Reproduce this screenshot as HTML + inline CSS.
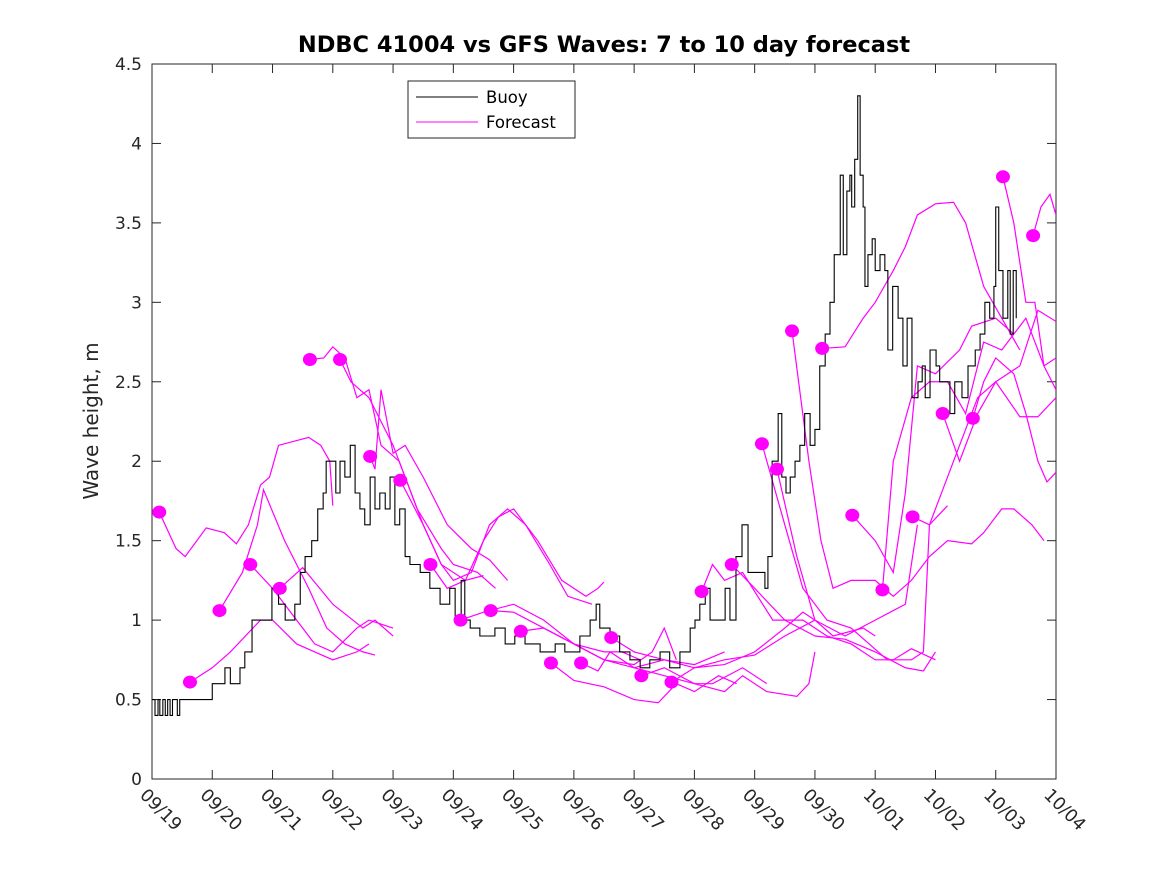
<!DOCTYPE html>
<html><head><meta charset="utf-8"><style>
body{margin:0;background:#fff;}
svg{display:block;font-family:"DejaVu Sans","Liberation Sans",sans-serif;}
</style></head><body>
<svg id="chart" width="1167" height="875" xmlns="http://www.w3.org/2000/svg"></svg>
<script>
const buoyTimes=[0,.05,.1,.13,.18,.22,.26,.3,.34,.38,.42,.46,1.0,1.21,1.3,1.46,1.54,1.66,1.87,1.99,2.1,2.21,2.37,2.46,2.54,2.65,2.75,2.84,2.89,3.0,3.05,3.12,3.2,3.29,3.37,3.45,3.53,3.62,3.7,3.78,3.87,3.95,4.03,4.11,4.2,4.28,4.45,4.61,4.78,4.94,5.03,5.13,5.19,5.28,5.44,5.69,5.86,6.02,6.19,6.44,6.69,6.85,7.1,7.27,7.37,7.43,7.6,7.76,7.93,8.1,8.26,8.43,8.59,8.76,8.93,9.01,9.09,9.18,9.26,9.42,9.51,9.59,9.69,9.79,9.89,10.09,10.17,10.22,10.29,10.39,10.45,10.52,10.59,10.67,10.75,10.83,10.92,11.0,11.08,11.17,11.25,11.32,11.42,11.47,11.53,11.58,11.61,11.66,11.71,11.75,11.8,11.83,11.88,11.95,12.0,12.08,12.16,12.21,12.29,12.38,12.46,12.53,12.61,12.71,12.78,12.83,12.91,13.01,13.07,13.16,13.24,13.32,13.44,13.54,13.66,13.74,13.82,13.9,13.97,14.0,14.05,14.12,14.2,14.24,14.29,14.34];
const buoyValues=[.5,.4,.5,.4,.5,.4,.5,.4,.5,.5,.4,.5,.6,.7,.6,.7,.8,1.0,1.0,1.2,1.1,1.0,1.1,1.3,1.4,1.5,1.7,1.8,2.0,2.0,1.8,2.0,1.9,2.1,1.8,1.7,1.6,1.9,1.7,1.8,1.7,1.9,1.6,1.7,1.4,1.35,1.3,1.2,1.1,1.2,1.0,1.25,1.0,.95,.9,.95,.85,.9,.85,.8,.85,.8,.9,1.0,1.1,.95,.9,.8,.75,.7,.75,.8,.7,.8,.95,1.0,1.1,1.2,1.0,1.0,1.2,1.0,1.4,1.6,1.3,1.3,1.2,1.4,2.0,2.3,1.9,1.8,1.9,2.0,2.1,2.3,2.1,2.2,2.6,2.8,3.0,3.3,3.8,3.3,3.7,3.8,3.6,3.9,4.3,3.8,3.6,3.1,3.3,3.4,3.2,3.3,3.2,2.7,3.1,2.9,2.6,2.9,2.4,2.5,2.6,2.4,2.7,2.6,2.5,2.5,2.3,2.5,2.4,2.6,2.7,2.8,3.0,2.9,3.1,3.6,3.2,2.9,3.2,2.8,3.2,2.9];
const forecastTimes=[
[.12,.4,.55,.9,1.2,1.4,1.6,1.8,1.95,2.1,2.4,2.6,2.8,2.95,3.0],
[.63,1.0,1.3,1.8,2.0,2.4,2.7,3.0,3.4,3.6],
[1.12,1.5,1.75,1.85,2.2,2.6,2.9,3.2,3.5,3.7],
[1.63,2.0,2.4,2.7,3.0,3.4,3.6,4.0],
[2.12,2.5,3.0,3.5,3.7,4.0],
[2.62,2.85,3.0,3.2,3.4,3.6,3.8,4.1,4.5,4.8,5.2,5.5],
[3.12,3.3,3.6,4.0,4.4,4.8,5.0,5.4,5.7],
[3.62,3.7,3.8,4.0,4.2,4.5,4.9,5.3,5.6,5.9],
[4.12,4.5,4.8,5.0,5.3,5.6,5.9,6.2,6.6,6.9,7.3],
[4.62,4.9,5.2,5.5,5.75,6.0,6.4,6.8,7.2,7.4,7.5],
[5.12,5.5,6.0,6.5,7.0,7.5,7.8,8.1],
[5.62,6.0,6.5,7.0,7.5,8.0,8.3,8.5,8.7],
[6.12,6.5,7.0,7.5,8.0,8.5,9.0,9.5],
[6.62,7.0,7.5,8.0,8.4,8.7,9.0,9.4,9.7],
[7.12,7.4,7.6,8.0,8.5,9.0,9.3,9.8,10.2],
[7.62,8.0,8.5,9.0,9.5,10.0,10.5,10.8,11.0],
[8.12,8.5,9.0,9.5,9.8,10.2,10.7,10.9,11.0],
[8.62,9.0,9.5,10.0,10.5,11.0,11.3,11.8,12.0],
[9.12,9.3,9.5,9.8,10.3,10.8,11.2,11.6,12.0,12.3,12.6,13.0],
[9.62,10.0,10.5,11.0,11.5,12.0,12.5,12.8,13.0],
[10.12,10.5,10.8,11.2,11.6,12.2,12.6,12.8,12.9,13.2],
[10.37,10.7,11.0,11.5,12.0,12.5,12.7],
[10.62,10.9,11.1,11.3,11.6,12.0,12.3,12.6,12.9,13.2,13.6,13.8,14.1,14.3,14.6,14.8],
[11.12,11.5,11.8,12.0,12.3,12.5,12.7,13.0,13.3,13.5,13.8,14.1,14.4],
[11.62,12.0,12.3,12.5,12.7,13.0,13.4,13.6,14.0,14.3],
[12.12,12.3,12.6,12.9,13.2,13.5,13.8,14.1,14.5,14.8,15.0],
[12.62,12.9,13.3,13.7,14.0,14.4,14.7,15.0],
[13.12,13.4,13.7,14.0,14.4,14.7,15.0],
[13.62,13.8,14.0,14.3,14.5,14.7,14.85,15.0],
[14.12,14.3,14.5,14.65,14.8,15.0],
[14.62,14.75,14.9,15.0]];
const forecastValues=[
[1.68,1.45,1.4,1.58,1.55,1.48,1.6,1.85,1.9,2.1,2.13,2.15,2.1,2.0,1.72],
[.61,.7,.8,1.0,1.0,.85,.8,.75,.8,.85],
[1.06,1.3,1.6,1.82,1.5,1.2,.95,.85,.8,.78],
[1.35,1.2,1.0,.85,.8,.95,1.0,.95],
[1.2,1.33,1.1,.95,1.0,.9],
[2.64,2.65,2.72,2.65,2.4,2.45,2.1,2.0,1.6,1.35,1.25,1.28],
[2.64,2.5,2.4,2.1,1.7,1.45,1.35,1.3,1.2],
[2.03,1.95,2.45,2.05,2.1,1.9,1.6,1.45,1.38,1.25],
[1.88,1.6,1.35,1.25,1.3,1.6,1.7,1.6,1.35,1.15,1.1],
[1.35,1.2,1.25,1.5,1.65,1.7,1.5,1.25,1.15,1.2,1.24],
[1.0,1.05,1.1,1.0,.85,.8,.8,.75],
[1.06,1.05,.95,.85,.75,.72,.8,.95,.75],
[.93,.95,.85,.75,.7,.75,.72,.8],
[.73,.62,.58,.5,.48,.6,.55,.65,.6],
[.73,.68,.8,.7,.65,.6,.6,.7,.6],
[.89,.8,.75,.7,.72,.8,.95,1.05,1.0],
[.65,.7,.6,.55,.65,.55,.52,.6,.8],
[.61,.7,.75,.78,.9,1.0,.9,.95,.9],
[1.18,1.35,1.25,1.3,1.0,1.0,.9,.85,.75,.75,.82,.75],
[1.35,1.2,1.0,.9,.88,.8,.7,.68,.8],
[2.11,1.6,1.2,1.0,.95,.75,.75,.8,1.6,1.72],
[1.95,1.4,1.0,.9,1.0,1.1,1.6],
[2.82,2.0,1.5,1.2,1.25,1.25,1.15,1.25,1.4,1.5,1.48,1.55,1.7,1.7,1.6,1.5],
[2.71,2.72,2.9,3.0,3.2,3.35,3.55,3.62,3.63,3.5,3.1,2.9,2.7],
[1.66,1.5,1.3,1.8,2.6,2.55,2.7,2.85,2.9,2.8],
[1.19,2.0,2.4,2.5,2.5,2.3,2.75,2.7,2.9,2.6,2.65],
[1.65,1.6,2.0,2.4,2.5,2.6,2.95,2.88],
[2.3,2.0,2.3,2.5,2.28,2.28,2.4],
[2.27,2.5,2.65,2.55,2.3,2.0,1.87,1.93],
[3.79,3.5,3.0,3.0,2.6,2.45],
[3.42,3.6,3.68,3.55]];
const xTickLabels=["09/19","09/20","09/21","09/22","09/23","09/24","09/25","09/26","09/27","09/28","09/29","09/30","10/01","10/02","10/03","10/04"];
const yTicks=[0,0.5,1,1.5,2,2.5,3,3.5,4,4.5];

const NS="http://www.w3.org/2000/svg";
const svg=document.getElementById('chart');
const L=152,R=1056,T=64,B=779;
const xs=d=>L+(R-L)*d/15;
const ys=v=>B-(B-T)*v/4.5;
function mk(tag,attrs,parent){const e=document.createElementNS(NS,tag);for(const k in attrs)e.setAttribute(k,attrs[k]);(parent||svg).appendChild(e);return e;}

const defs=mk('defs',{});
const cp=mk('clipPath',{id:'clip'},defs);
mk('rect',{x:L,y:T,width:R-L,height:B-T},cp);

const frame=mk('rect',{x:L,y:T,width:R-L,height:B-T,fill:'#fff',stroke:'#262626','stroke-width':1});



yTicks.forEach(v=>{
  const y=ys(v);
  mk('line',{x1:L,x2:L+9,y1:y,y2:y,stroke:'#262626'});
  mk('line',{x1:R,x2:R-9,y1:y,y2:y,stroke:'#262626'});
  const t=mk('text',{x:L-10,y:y+6,'text-anchor':'end','font-size':17,fill:'#262626'});
  t.textContent=String(v);
  
  
});
xTickLabels.forEach((lab,i)=>{
  const x=xs(i);
  mk('line',{x1:x,x2:x,y1:B,y2:B-9,stroke:'#262626'});
  mk('line',{x1:x,x2:x,y1:T,y2:T+9,stroke:'#262626'});
  const t=mk('text',{x:x-13,y:B+17,'font-size':17.5,fill:'#262626',transform:`rotate(45 ${x-13} ${B+17})`});
  t.textContent=lab;
  
  
});

const g=mk('g',{'clip-path':'url(#clip)'});
forecastTimes.forEach((ts,i)=>{
  const vs=forecastValues[i];
  const p=mk('polyline',{points:ts.map((t,j)=>xs(t)+','+ys(vs[j])).join(' '),fill:'none',stroke:'#ff00ff','stroke-width':1.2},g);
  
  
});
let pts=[];
buoyTimes.forEach((t,i)=>{
  if(i>0)pts.push(xs(t)+','+ys(buoyValues[i-1]));
  pts.push(xs(t)+','+ys(buoyValues[i]));
});
const bl=mk('polyline',{points:pts.join(' '),fill:'none',stroke:'#000','stroke-width':1.1},g);


forecastTimes.forEach((ts,i)=>{
  const c=mk('ellipse',{cx:xs(ts[0]),cy:ys(forecastValues[i][0]),rx:7,ry:6.5,fill:'#ff00ff'},g);
  
  
});

const title=mk('text',{x:604,y:52,'text-anchor':'middle','font-size':22.5,'font-weight':'bold',fill:'#000'});
title.textContent='NDBC 41004 vs GFS Waves: 7 to 10 day forecast';


const yl=mk('text',{x:98,y:421,'text-anchor':'middle','font-size':20,fill:'#262626',transform:'rotate(-90 98 421)'});
yl.textContent='Wave height, m';



const lg=mk('g',{});


mk('rect',{x:408,y:81,width:167,height:57,fill:'#fff',stroke:'#262626'},lg);
mk('line',{x1:416,x2:478,y1:97,y2:97,stroke:'#000'},lg);
mk('line',{x1:416,x2:478,y1:122,y2:122,stroke:'#ff00ff'},lg);
const l1=mk('text',{x:486,y:103,'font-size':16.5,fill:'#000'},lg);l1.textContent='Buoy';


const l2=mk('text',{x:486,y:128,'font-size':16.5,fill:'#000'},lg);l2.textContent='Forecast';


</script>
</body></html>
